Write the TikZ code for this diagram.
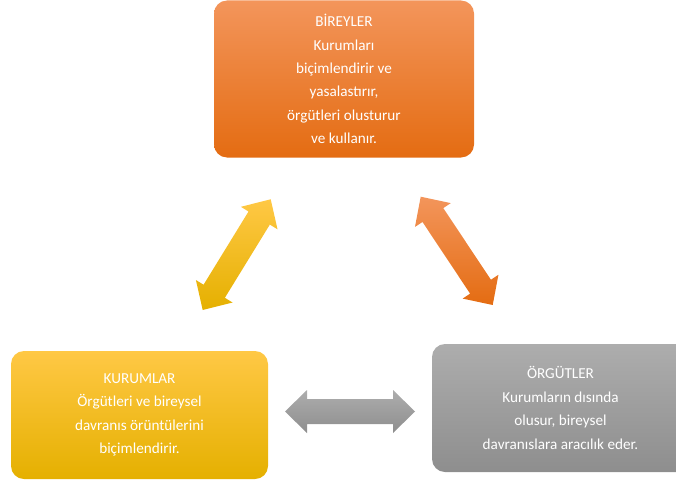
\documentclass[tikz,border=0pt]{standalone}
\usepackage{fontspec}
\setmainfont{Carlito}
\usetikzlibrary{calc}
\definecolor{orTop}{HTML}{F3955B}
\definecolor{orMid}{HTML}{F07D2D}
\definecolor{orBot}{HTML}{E46C12}
\definecolor{yeTop}{HTML}{FFC845}
\definecolor{yeMid}{HTML}{FFC000}
\definecolor{yeBot}{HTML}{E5B000}
\definecolor{grTop}{HTML}{ADADAD}
\definecolor{grMid}{HTML}{A0A0A0}
\definecolor{grBot}{HTML}{8E8E8E}
\newcommand\dblarrow[5]{%
  \coordinate (#1-h) at ($(#1)!22pt!(#2)$);
  \coordinate (#2-h) at ($(#2)!22pt!(#1)$);
  \path[top color=#3, middle color=#4, bottom color=#5]
    (#1) -- ($(#1-h)!21.5pt!90:(#2)$) -- ($(#1-h)!12.5pt!90:(#2)$)
    -- ($(#2-h)!12.5pt!-90:(#1)$) -- ($(#2-h)!21.5pt!-90:(#1)$)
    -- (#2) -- ($(#2-h)!21.5pt!90:(#1)$) -- ($(#2-h)!12.5pt!90:(#1)$)
    -- ($(#1-h)!12.5pt!-90:(#2)$) -- ($(#1-h)!21.5pt!-90:(#2)$) -- cycle;}
\tikzset{
  box/.style={rounded corners=13pt, inner sep=0pt, align=center, text=white,
    font=\fontsize{15.2}{23.4}\selectfont},
}
\begin{document}
\begin{tikzpicture}[x=1pt,y=-1pt]
\clip (0,0) rectangle (676,484);
\node[box, minimum width=260pt, minimum height=157pt,
  top color=orTop, middle color=orMid, bottom color=orBot]
  (bir) at (344,79) {BİREYLER\\Kurumları\\biçimlendirir ve\\yasalastırır,\\örgütleri olusturur\\ve kullanır.};
\node[box, minimum width=257pt, minimum height=128pt,
  top color=yeTop, middle color=yeMid, bottom color=yeBot]
  (kur) at (139.5,415) {KURUMLAR\\Örgütleri ve bireysel\\davranıs örüntülerini\\biçimlendirir.};
\node[box, minimum width=257pt, minimum height=128pt,
  top color=grTop, middle color=grMid, bottom color=grBot]
  (org) at (560.5,408) {ÖRGÜTLER\\Kurumların dısında\\olusur, bireysel\\davranıslara aracılık eder.};
\coordinate (ya) at (202.7,310);
\coordinate (yb) at (270.7,199.3);
\coordinate (oa) at (420.7,196.7);
\coordinate (ob) at (492.7,305);
\coordinate (ga) at (285,411.5);
\coordinate (gb) at (415,411.5);
\dblarrow{ya}{yb}{yeTop}{yeMid}{yeBot}
\dblarrow{oa}{ob}{orTop}{orMid}{orBot}
\dblarrow{ga}{gb}{grTop}{grMid}{grBot}
\end{tikzpicture}
\end{document}
